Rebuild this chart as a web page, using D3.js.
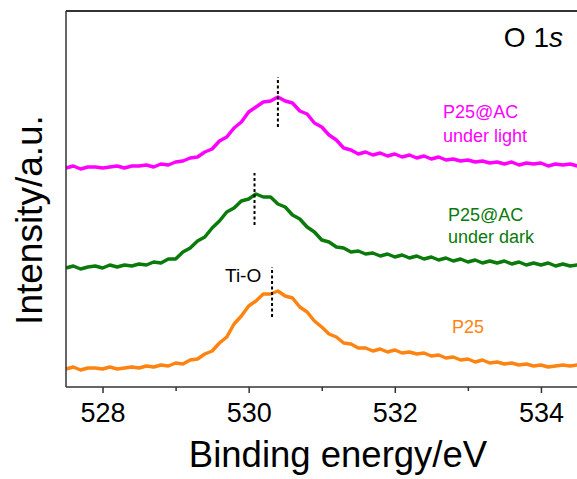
<!DOCTYPE html>
<html><head><meta charset="utf-8">
<script src="https://cdn.jsdelivr.net/npm/d3@7/dist/d3.min.js"></script>
<style>html,body{margin:0;padding:0;background:#fff;}svg{display:block;}</style>
</head><body>
<svg id="chart" width="577" height="479"></svg>
<script>
// Binding energy grid (eV)
const energy = [
527.5,527.6,527.7,527.8,527.9,528.0,528.1,528.2,528.3,528.4,
528.5,528.6,528.7,528.8,528.9,529.0,529.1,529.2,529.3,529.4,
529.5,529.6,529.7,529.8,529.9,530.0,530.1,530.2,530.3,530.4,
530.5,530.6,530.7,530.8,530.9,531.0,531.1,531.2,531.3,531.4,
531.5,531.6,531.7,531.8,531.9,532.0,532.1,532.2,532.3,532.4,
532.5,532.6,532.7,532.8,532.9,533.0,533.1,533.2,533.3,533.4,
533.5,533.6,533.7,533.8,533.9,534.0,534.1,534.2,534.3,534.4,
534.5];
// stacked intensities (a.u., offset for display)
const p25Light = [
219,221,218,220,220,219,220,221,219,221,
221,222,220,223,222,225,226,229,230,235,
238,246,250,259,265,275,280,285,286,290,
286,284,276,273,264,260,252,247,239,237,
233,235,232,234,231,233,230,232,229,231,
228,230,227,228,226,227,225,226,224,225,
223,225,222,224,223,224,221,223,222,223,
221];
const p25Dark = [
119,121,118,120,121,119,122,120,122,121,
123,122,125,124,128,128,135,139,146,150,
159,166,175,179,186,188,193,190,190,183,
180,172,168,160,155,147,145,140,139,135,
136,133,134,131,133,130,132,129,131,128,
130,127,129,126,128,125,127,124,126,124,
126,123,125,122,124,122,124,121,123,121,
122];
const p25 = [
18,20,17,19,19,18,20,18,19,20,
19,21,20,22,21,24,23,27,28,33,
36,44,50,63,71,81,86,93,93,96,
91,89,80,75,66,60,53,50,44,43,
39,39,36,38,35,37,34,35,33,34,
31,32,29,30,27,28,25,27,24,25,
23,24,22,23,21,22,20,21,22,21,
22];
const seriesNames = ["P25@AC under light", "P25@AC under dark", "P25"];
const seriesColors = ["#ff00ff", "#0a7a0a", "#ff8310"];
// peak markers: energy, y from, y to
const peakEnergy = [530.4, 530.08, 530.32];
const peakLow = [260, 162, 70];
const peakHigh = [310, 214, 120];
const majorTicks = [528, 530, 532, 534];
const minorTicks = [529, 531, 533];

const svg = d3.select("#chart");
const mLeft = 66, mTop = 11, mBottom = 387, mRight = 614;
const x = d3.scaleLinear().domain([527.5, 535]).range([mLeft, mRight]);
const y = d3.scaleLinear().domain([0, 376]).range([mBottom, mTop]);

const font = "'Liberation Sans', Arial, sans-serif";
const frameColor = "#333";

// curves
const allSeries = [p25Light, p25Dark, p25];
const line = d3.line().x((d, i) => x(energy[i])).y(d => y(d));
allSeries.forEach((s, k) => {
  svg.append("path").datum(s).attr("d", line)
    .attr("fill", "none").attr("stroke", seriesColors[k])
    .attr("stroke-width", 3.5).attr("stroke-linejoin", "round");
});

// dashed peak lines
peakEnergy.forEach((e, k) => {
  svg.append("line")
    .attr("x1", x(e)).attr("x2", x(e))
    .attr("y1", y(peakLow[k])).attr("y2", y(peakHigh[k]))
    .attr("stroke", "#000").attr("stroke-width", 2)
    .attr("stroke-dasharray", "3,2.5");
});

// frame
svg.append("line").attr("x1", mLeft).attr("x2", 577).attr("y1", mTop).attr("y2", mTop)
  .attr("stroke", frameColor).attr("stroke-width", 2);
svg.append("line").attr("x1", mLeft).attr("x2", mLeft).attr("y1", mTop).attr("y2", mBottom)
  .attr("stroke", frameColor).attr("stroke-width", 1.5);

// x axis
const xAxis = d3.axisBottom(x).tickValues(majorTicks).tickSize(6).tickSizeOuter(0).tickFormat(d3.format("d"));
const gx = svg.append("g").attr("transform", `translate(0,${mBottom})`).call(xAxis);
gx.select(".domain").attr("stroke", frameColor).attr("stroke-width", 1.5)
  .attr("d", `M${mLeft},0H${mRight}`);
gx.selectAll(".tick line").attr("stroke", frameColor).attr("stroke-width", 1.5);
gx.selectAll(".tick text").attr("font-family", font).attr("font-size", 27)
  .attr("fill", "#000").attr("y", 16);
const gm = svg.append("g").attr("transform", `translate(0,${mBottom})`)
  .call(d3.axisBottom(x).tickValues(minorTicks).tickSize(4).tickFormat(""));
gm.select(".domain").remove();
gm.selectAll(".tick line").attr("stroke", frameColor).attr("stroke-width", 1.5);

// axis titles
svg.append("text").attr("x", 338).attr("y", 467)
  .attr("text-anchor", "middle").attr("font-family", font).attr("font-size", 36.5)
  .attr("fill", "#000").text("Binding energy/eV");
svg.append("text").attr("transform", `translate(42,220) rotate(-90)`)
  .attr("text-anchor", "middle").attr("font-family", font).attr("font-size", 37)
  .attr("fill", "#000").text("Intensity/a.u.");

// O 1s
const o1s = svg.append("text").attr("x", 563).attr("y", 47).attr("text-anchor", "end")
  .attr("font-family", font).attr("font-size", 28).attr("fill", "#000");
o1s.append("tspan").text("O 1");
o1s.append("tspan").attr("font-style", "italic").text("s");

// series labels
const lab = (tx, ty, txt, col, sz) => svg.append("text").attr("x", tx).attr("y", ty)
  .attr("font-family", font).attr("font-size", sz).attr("fill", col).text(txt);
lab(443, 118, "P25@AC", seriesColors[0], 18);
lab(443, 142, "under light", seriesColors[0], 18);
lab(448, 221, "P25@AC", seriesColors[1], 18);
lab(448, 243, "under dark", seriesColors[1], 18);
lab(452, 333, "P25", seriesColors[2], 18);
lab(225, 282, "Ti-O", "#000", 19);
</script>
</body></html>
